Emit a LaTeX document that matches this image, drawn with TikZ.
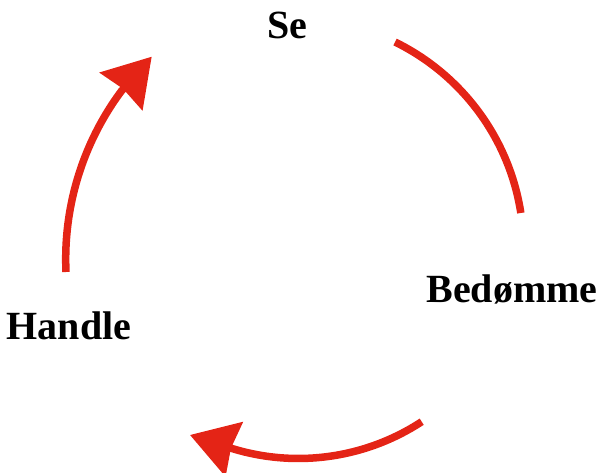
\documentclass[tikz,border=0pt]{standalone}
\usepackage{fontspec}
\setmainfont{Liberation Serif}
\usetikzlibrary{arrows.meta,positioning}
\definecolor{cyclered}{RGB}{228,36,22}
\tikzset{
    cyclearc/.style={draw=cyclered,line width=7.5pt},
    cycletip/.style={-{Stealth[length=46pt,width=56pt,inset=3pt,color=cyclered]}},
    steplabel/.style={anchor=base,inner sep=0pt,font=\fontsize{40}{48}\selectfont\bfseries}
}

\begin{document}
\begin{tikzpicture}[x=1pt,y=1pt]
    \useasboundingbox (0,0) rectangle (602,472);
    \node[steplabel] (se) at (287,433) {Se}; %label
    \node[steplabel] (bedomme) at (512,170) {Bedømme}; %label
    \node[steplabel] (handle) at (69,133) {Handle}; %label
    \coordinate (rStart) at (395,430);
    \coordinate (lStart) at (66,200);
    \coordinate (lTip) at (151.7,415.3);
    \coordinate (bStart) at (421.7,50.3);
    \coordinate (bTip) at (190,37);
    \draw[cyclearc] (rStart) arc[start angle=63.9,end angle=8.8,radius=229.5];
    \draw[cyclearc,cycletip] (lStart) arc[start angle=182.6,end angle=143.4,radius=281.8] -- (lTip);
    \draw[cyclearc,cycletip] (bStart) arc[start angle=-56.8,end angle=-106.9,radius=225.3] -- (bTip);
\end{tikzpicture}
\end{document}
